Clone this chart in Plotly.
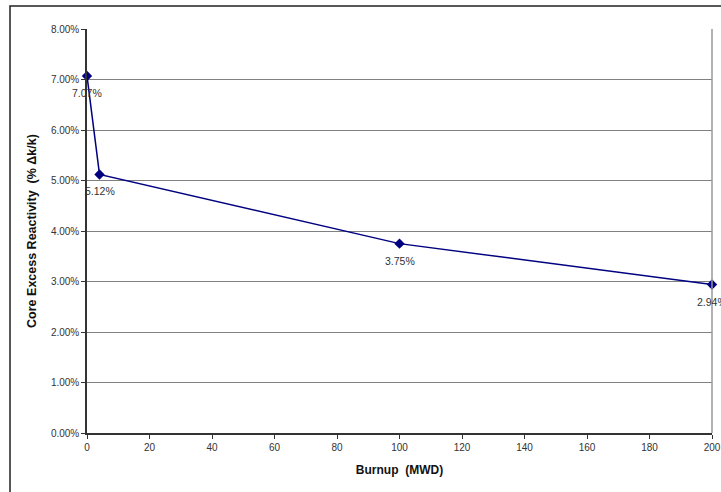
import plotly.graph_objects as go

burnup = [0, 4, 100, 200]
reactivity = [7.07, 5.12, 3.75, 2.94]
labels = ["7.07%", "5.12%", "3.75%", "2.94%"]
y_ticks = [0, 1, 2, 3, 4, 5, 6, 7, 8]
y_ticktext = [f"{v:.2f}%" for v in y_ticks]
x_ticks = list(range(0, 201, 20))

fig = go.Figure()
fig.add_trace(go.Scatter(
    x=burnup, y=reactivity, mode="lines+markers",
    line=dict(color="#000080", width=1.5),
    marker=dict(symbol="diamond", size=8, color="#000080"),
    cliponaxis=False, showlegend=False,
))

for xv, yv, t in zip(burnup, reactivity, labels):
    fig.add_annotation(x=xv, y=yv, text=t, showarrow=False, yshift=-17,
                       font=dict(family="Liberation Sans, Arial", size=10.5, color="#333333"))

fig.add_shape(type="rect", xref="paper", yref="paper",
              x0=-0.1232, x1=1.2, y0=-0.3, y1=1.0569,
              line=dict(color="#222222", width=1.5), layer="below")

fig.update_layout(
    width=721, height=492,
    margin=dict(l=87, r=9, t=29, b=59),
    paper_bgcolor="white", plot_bgcolor="white",
    font=dict(family="Liberation Sans, Arial", color="#333333"),
    xaxis=dict(
        range=[0, 200], tickvals=x_ticks, showgrid=False, automargin=False,
        ticks="outside", ticklen=4, tickcolor="#333333",
        showline=True, linecolor="#333333", linewidth=1.5, mirror=False,
        tickfont=dict(size=10, color="#333333"),
        title=dict(text="<b>Burnup  (MWD)</b>", font=dict(size=12, color="#111111"), standoff=14),
        zeroline=False,
    ),
    yaxis=dict(
        range=[0, 8], tickvals=y_ticks, ticktext=y_ticktext, automargin=False,
        showgrid=True, gridcolor="#808080", gridwidth=1.2,
        ticks="outside", ticklen=4, tickcolor="#333333",
        showline=True, linecolor="#333333", linewidth=1.5,
        tickfont=dict(size=10, color="#333333"),
        title=dict(text="<b>Core Excess Reactivity  (% Δk/k)</b>", font=dict(size=12.5, color="#111111"), standoff=12),
        zeroline=False,
    ),
)
fig.add_shape(type="line", xref="paper", yref="paper", x0=1, x1=1, y0=0, y1=1,
              line=dict(color="#999999", width=1.5))

fig.write_html("out.html")
